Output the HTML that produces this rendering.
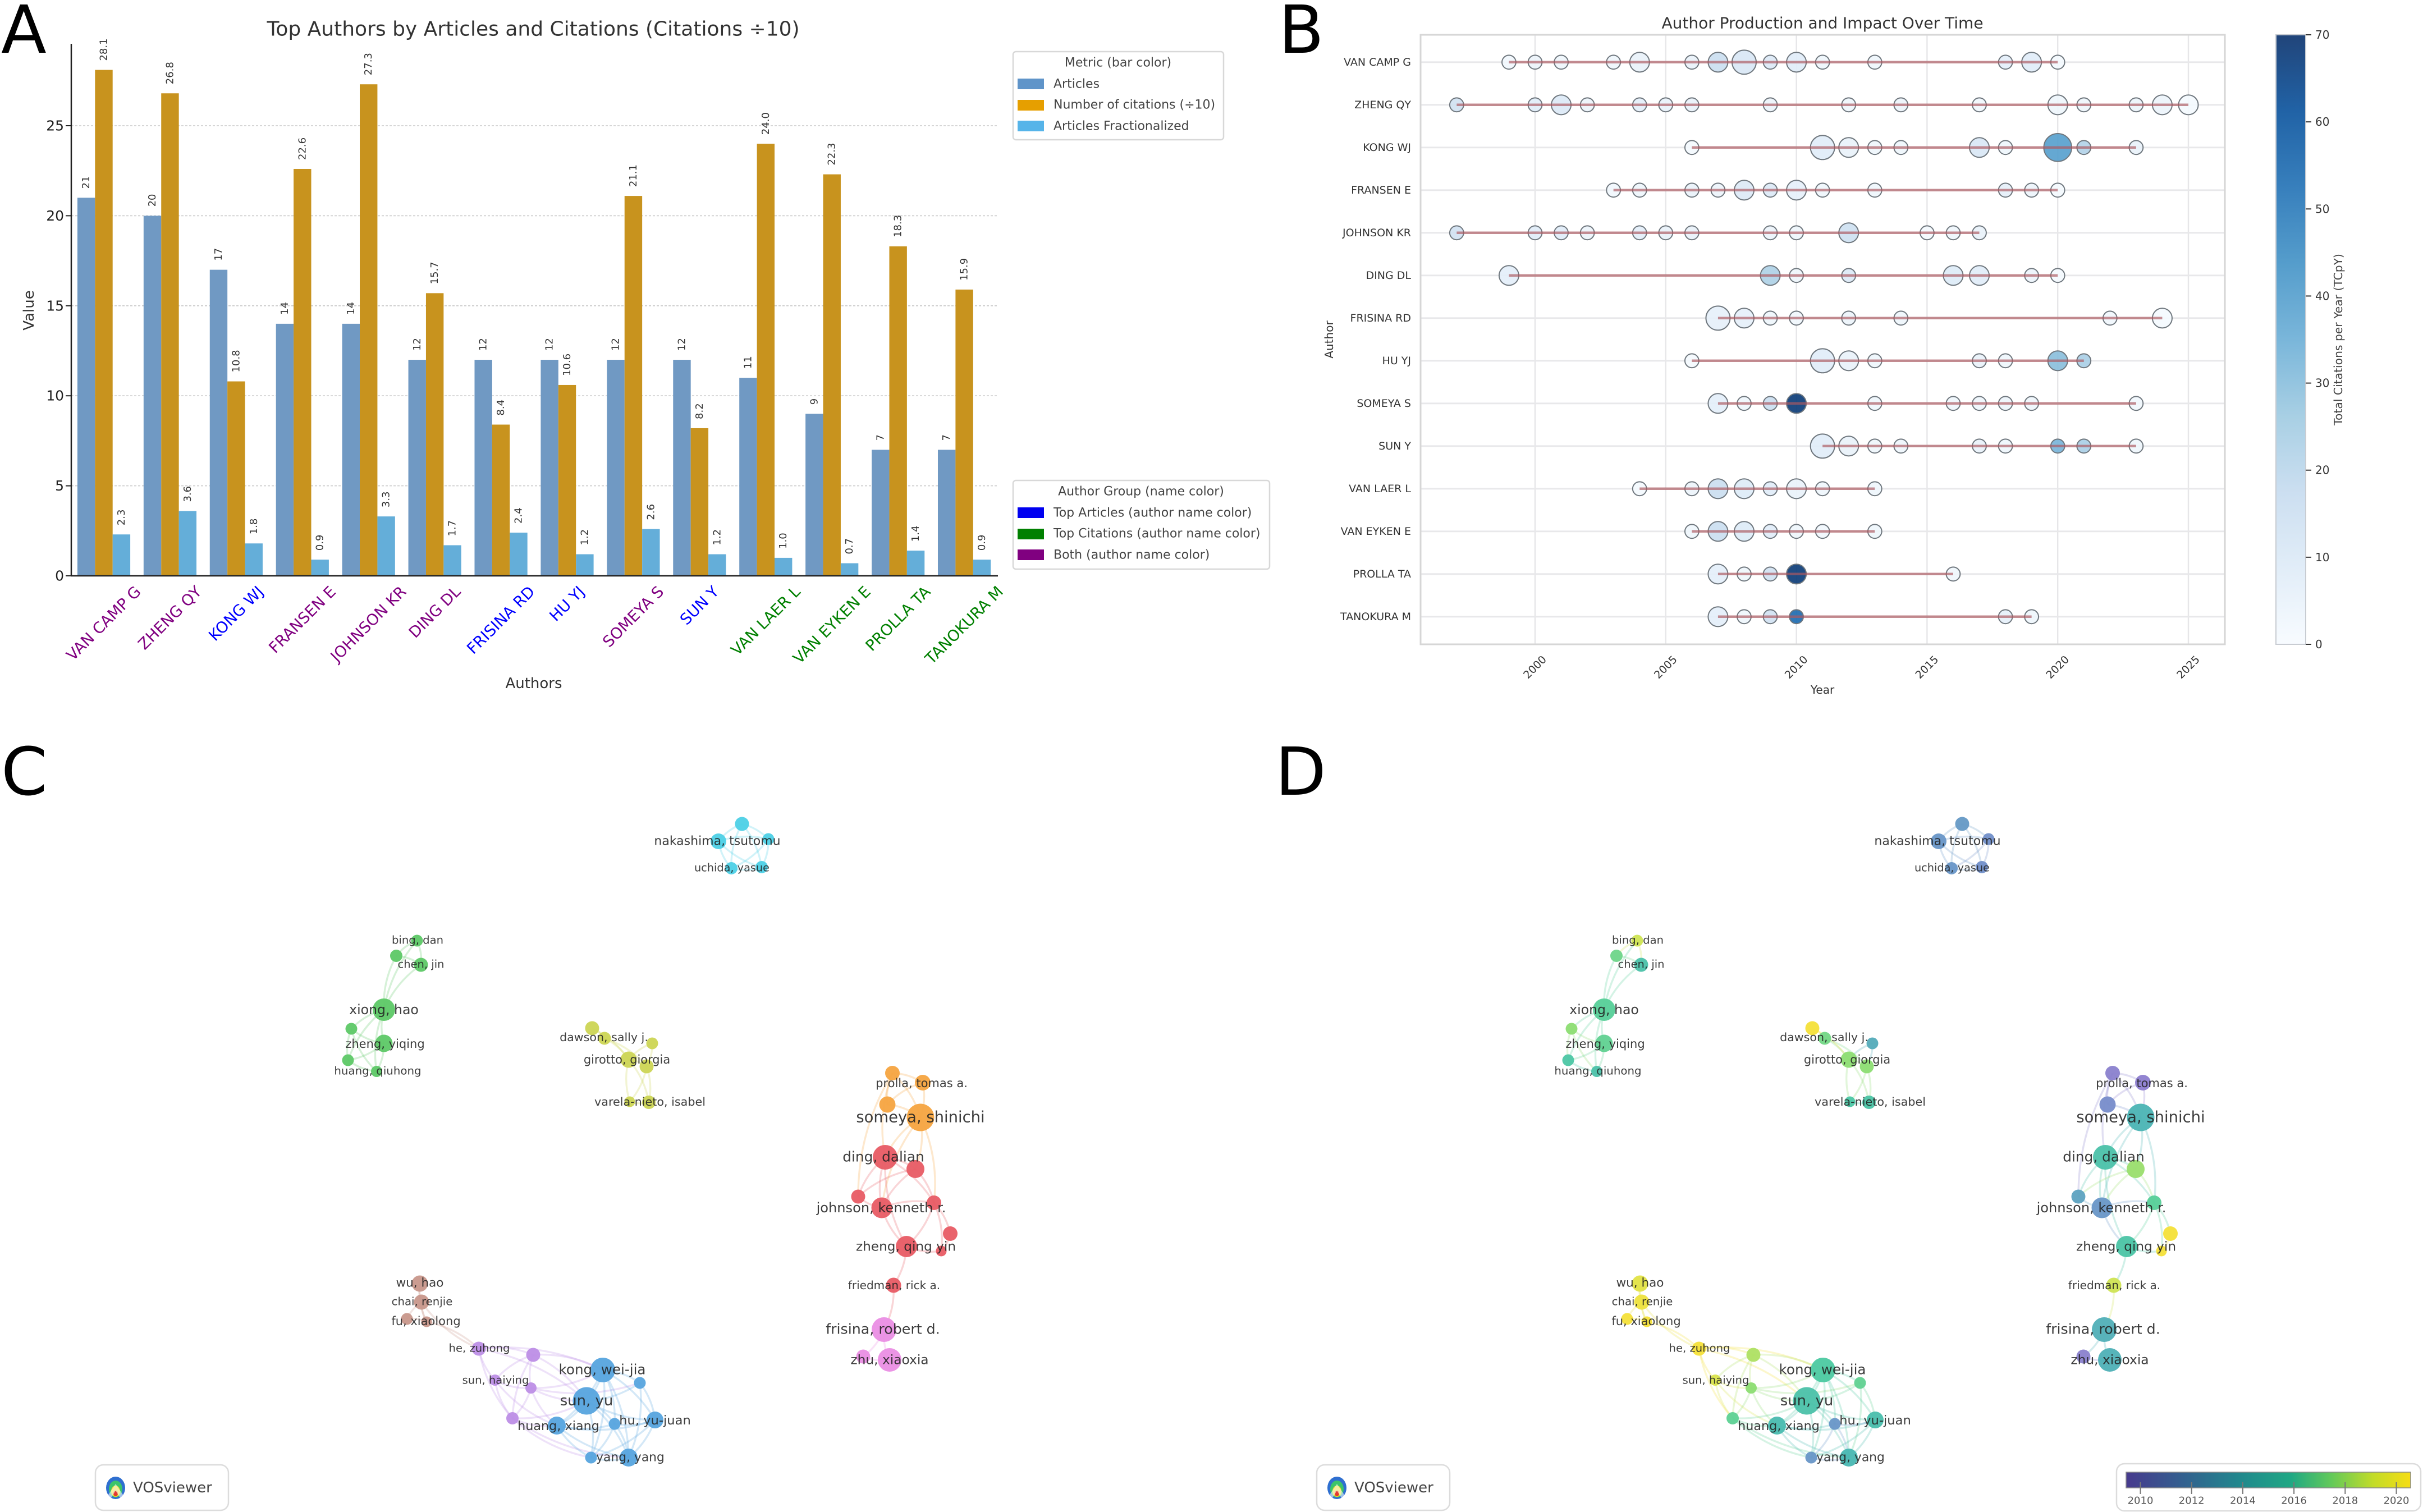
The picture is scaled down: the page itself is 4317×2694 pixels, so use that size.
<!DOCTYPE html>
<html lang="en">
<head>
<meta charset="utf-8">
<title>Author bibliometrics panels</title>
<style>
html,body{margin:0;padding:0;background:#fff}
svg{display:block}
text{font-family:"DejaVu Sans","Liberation Sans",sans-serif}
</style>
</head>
<body>
<svg id="figure" xmlns="http://www.w3.org/2000/svg" width="4317" height="2694" viewBox="0 0 4317 2694">
  <defs>
    <linearGradient id="bluesGrad" x1="0" y1="1" x2="0" y2="0">
      <stop offset="0" stop-color="#f7fbff"/><stop offset=".125" stop-color="#deebf7"/><stop offset=".25" stop-color="#c6dbef"/><stop offset=".375" stop-color="#9ecae1"/><stop offset=".5" stop-color="#6baed6"/><stop offset=".625" stop-color="#4292c6"/><stop offset=".75" stop-color="#2171b5"/><stop offset=".875" stop-color="#08519c"/><stop offset="1" stop-color="#08306b"/>
    </linearGradient>
    <linearGradient id="yearGrad" x1="0" y1="0" x2="1" y2="0">
      <stop offset="0" stop-color="#473a8e"/><stop offset=".2" stop-color="#33608f"/><stop offset=".4" stop-color="#21888d"/><stop offset=".58" stop-color="#1fa884"/><stop offset=".72" stop-color="#62c95a"/><stop offset=".87" stop-color="#c3dc28"/><stop offset="1" stop-color="#f6dd14"/>
    </linearGradient>
  </defs>

  <rect x="0" y="0" width="4317" height="2694" fill="#fff"/>

  <text x="2" y="94" font-size="118" fill="#000">A</text>
  <text x="2278" y="94" font-size="118" fill="#000">B</text>
  <text x="2" y="1416" font-size="118" fill="#000">C</text>
  <text x="2272" y="1416" font-size="118" fill="#000">D</text>

  <!-- Panel A -->
  <g id="panelA">
    <text x="950" y="52" font-size="36" fill="#333" text-anchor="middle" dominant-baseline="central">Top Authors by Articles and Citations (Citations ÷10)</text>
    <g id="aGrid"></g>
    <g id="aBars"></g>
    <line x1="127" y1="78" x2="127" y2="1027" stroke="#222" stroke-width="2.5"/>
    <line x1="126" y1="1026" x2="1778" y2="1026" stroke="#222" stroke-width="2.5"/>
    <g id="aTicks"></g>
    <g id="aCats"></g>
    <text transform="translate(52 553) rotate(-90)" font-size="26" fill="#333" text-anchor="middle" dominant-baseline="central">Value</text>
    <text x="951" y="1218" font-size="26" fill="#333" text-anchor="middle" dominant-baseline="central">Authors</text>

    <g>
      <rect x="1805" y="92" width="375" height="157" rx="5" fill="#fff" stroke="#d8d8d8" stroke-width="2.5"/>
      <text x="1992" y="112" font-size="22" fill="#444" text-anchor="middle" dominant-baseline="central">Metric (bar color)</text>
      <rect x="1813" y="140" width="47" height="19" fill="#5f94c9"/>
      <text x="1877" y="150" font-size="22" fill="#444" dominant-baseline="central">Articles</text>
      <rect x="1813" y="178" width="47" height="19" fill="#e69f00"/>
      <text x="1877" y="187" font-size="22" fill="#444" dominant-baseline="central">Number of citations (÷10)</text>
      <rect x="1813" y="215" width="47" height="19" fill="#56b4e9"/>
      <text x="1877" y="225" font-size="22" fill="#444" dominant-baseline="central">Articles Fractionalized</text>
    </g>
    <g>
      <rect x="1805" y="856" width="457" height="158" rx="5" fill="#fff" stroke="#d8d8d8" stroke-width="2.5"/>
      <text x="2033" y="876" font-size="22" fill="#444" text-anchor="middle" dominant-baseline="central">Author Group (name color)</text>
      <rect x="1813" y="904" width="47" height="19" fill="#0000f0"/>
      <text x="1877" y="914" font-size="22" fill="#444" dominant-baseline="central">Top Articles (author name color)</text>
      <rect x="1813" y="942" width="47" height="19" fill="#008000"/>
      <text x="1877" y="951" font-size="22" fill="#444" dominant-baseline="central">Top Citations (author name color)</text>
      <rect x="1813" y="979" width="47" height="19" fill="#800080"/>
      <text x="1877" y="989" font-size="22" fill="#444" dominant-baseline="central">Both (author name color)</text>
    </g>
  </g>

  <!-- Panel B -->
  <g id="panelB">
    <text x="3247" y="41" font-size="28" fill="#333" text-anchor="middle" dominant-baseline="central">Author Production and Impact Over Time</text>
    <g id="bGrid"></g>
    <rect x="2531" y="62" width="1433" height="1086" fill="none" stroke="#d6d6d6" stroke-width="3"/>
    <g id="bMarks"></g>
    <g id="bLines"></g>
    <g id="bTicks"></g>
    <text x="3247" y="1229" font-size="20" fill="#333" text-anchor="middle" dominant-baseline="central">Year</text>
    <text transform="translate(2368 605) rotate(-90)" font-size="20" fill="#333" text-anchor="middle" dominant-baseline="central">Author</text>
    <g>
      <rect x="4055" y="62" width="53" height="1086" fill="url(#bluesGrad)" opacity=".9"/>
      <rect x="4055" y="62" width="53" height="1086" fill="none" stroke="#c8ccd2" stroke-width="2"/>
      <g id="bCbar"></g>
      <text transform="translate(4166 605) rotate(-90)" font-size="20.3" fill="#444" text-anchor="middle" dominant-baseline="central">Total Citations per Year (TCpY)</text>
    </g>
  </g>

  <!-- Panel C / D -->
  <g id="panelC"></g>
  <g id="panelD"></g>

  <g>
    <rect x="170" y="2610" width="237" height="81" rx="14" fill="#fff" stroke="#dcdcdc" stroke-width="2.5"/>
    <g>
      <ellipse cx="206" cy="2651" rx="17" ry="20" fill="#2f6fd0"/><ellipse cx="206" cy="2653" rx="12" ry="15" fill="#3cc46a"/><ellipse cx="206" cy="2657" rx="8" ry="10" fill="#ecd92f"/><ellipse cx="206" cy="2661" rx="4" ry="5" fill="#e23a2e"/><path d="M187 2672l19-28 19 28h-9l-10-16-10 16z" fill="#fff" opacity=".55"/>
    </g>
    <text x="237" y="2651" font-size="26" fill="#444" dominant-baseline="central">VOSviewer</text>
  </g>
  <g>
    <rect x="2346" y="2610" width="237" height="81" rx="14" fill="#fff" stroke="#dcdcdc" stroke-width="2.5"/>
    <g>
      <ellipse cx="2382" cy="2651" rx="17" ry="20" fill="#2f6fd0"/><ellipse cx="2382" cy="2653" rx="12" ry="15" fill="#3cc46a"/><ellipse cx="2382" cy="2657" rx="8" ry="10" fill="#ecd92f"/><ellipse cx="2382" cy="2661" rx="4" ry="5" fill="#e23a2e"/><path d="M2363 2672l19-28 19 28h-9l-10-16-10 16z" fill="#fff" opacity=".55"/>
    </g>
    <text x="2413" y="2651" font-size="26" fill="#444" dominant-baseline="central">VOSviewer</text>
  </g>

  <g>
    <rect x="3771" y="2608" width="542" height="84" rx="14" fill="#fff" stroke="#dcdcdc" stroke-width="2.5"/>
    <rect x="3788" y="2623" width="507" height="28" fill="url(#yearGrad)" stroke="#8a8a8a" stroke-width="1.5"/>
    <g id="dCbar"></g>
  </g>
</svg>

<script>
/* ---------- Panel A data ---------- */
const authors = ["VAN CAMP G","ZHENG QY","KONG WJ","FRANSEN E","JOHNSON KR","DING DL","FRISINA RD","HU YJ","SOMEYA S","SUN Y","VAN LAER L","VAN EYKEN E","PROLLA TA","TANOKURA M"];
const articles = [21,20,17,14,14,12,12,12,12,12,11,9,7,7];
const citations = [28.1,26.8,10.8,22.6,27.3,15.7,8.4,10.6,21.1,8.2,24.0,22.3,18.3,15.9];
const fractionalized = [2.3,3.6,1.8,0.9,3.3,1.7,2.4,1.2,2.6,1.2,1.0,0.7,1.4,0.9];
const authorGroups = ["both","both","articles","both","both","both","articles","articles","both","articles","citations","citations","citations","citations"];
const valueTicks = [0,5,10,15,20,25];

/* ---------- Panel B data ---------- */
const timelineAuthors = ["VAN CAMP G","ZHENG QY","KONG WJ","FRANSEN E","JOHNSON KR","DING DL","FRISINA RD","HU YJ","SOMEYA S","SUN Y","VAN LAER L","VAN EYKEN E","PROLLA TA","TANOKURA M"];
const pubYears = [
 [1999,2000,2001,2003,2004,2006,2007,2008,2009,2010,2011,2013,2018,2019,2020],
 [1997,2000,2001,2002,2004,2005,2006,2009,2012,2014,2017,2020,2021,2023,2024,2025],
 [2006,2011,2012,2013,2014,2017,2018,2020,2021,2023],
 [2003,2004,2006,2007,2008,2009,2010,2011,2013,2018,2019,2020],
 [1997,2000,2001,2002,2004,2005,2006,2009,2010,2012,2015,2016,2017],
 [1999,2009,2010,2012,2016,2017,2019,2020],
 [2007,2008,2009,2010,2012,2014,2022,2024],
 [2006,2011,2012,2013,2017,2018,2020,2021],
 [2007,2008,2009,2010,2013,2016,2017,2018,2019,2023],
 [2011,2012,2013,2014,2017,2018,2020,2021,2023],
 [2004,2006,2007,2008,2009,2010,2011,2013],
 [2006,2007,2008,2009,2010,2011,2013],
 [2007,2008,2009,2010,2016],
 [2007,2008,2009,2010,2018,2019]
];
const pubCounts = [
 [1,1,1,1,2,1,2,3,1,2,1,1,1,2,1],
 [1,1,2,1,1,1,1,1,1,1,1,2,1,1,2,2],
 [1,3,2,1,1,2,1,4,1,1],
 [1,1,1,1,2,1,2,1,1,1,1,1],
 [1,1,1,1,1,1,1,1,1,2,1,1,1],
 [2,2,1,1,2,2,1,1],
 [3,2,1,1,1,1,1,2],
 [1,3,2,1,1,1,2,1],
 [2,1,1,2,1,1,1,1,1,1],
 [3,2,1,1,1,1,1,1,1],
 [1,1,2,2,1,2,1,1],
 [1,2,2,1,1,1,1],
 [2,1,1,2,1],
 [2,1,1,1,1,1]
];
const pubTcpy = [
 [2,4,3,3,5,5,16,11,10,8,3,3,7,8,1],
 [14,8,10,4,7,5,5,4,3,4,2,3,3,4,4,1],
 [1,8,5,3,3,11,3,40,22,5],
 [2,3,5,4,10,10,6,3,3,6,4,1],
 [14,8,8,4,7,5,5,4,3,15,1,3,5],
 [7,23,3,10,9,8,4,1],
 [6,6,3,2,4,3,2,1],
 [1,8,5,3,5,3,30,24],
 [7,3,16,68,3,3,3,4,3,2],
 [8,5,3,3,5,3,33,24,3],
 [1,4,16,9,8,5,3,3],
 [3,16,9,8,3,2,3],
 [7,3,14,68,3],
 [7,3,14,55,6,3]
];
const yearTicks = [2000,2005,2010,2015,2020,2025];
const tcpyTicks = [0,10,20,30,40,50,60,70];

/* ---------- Panels C/D data: layout coordinates come from the network map ---------- */
const nodeIds = ["n1","n2","n3","n4","n5","xiong","bing","g3","chen","g5","yiqing","g7","qiuhong","y1","dawson","y3","girotto","y5","y6","varela","o1","prolla","o3","someya","ding","r2","r3","johnson","r5","r6","qingyin","r8","friedman","frisina","p2","zhu","wu","chai","b3","b4","he","u2","haiying","u4","u5","kong","s1","sunyu","xiang","m1","yujuan","m2","yang"];
const nodeLayoutX = [1322,1280,1369,1303,1357,684,743,706,750,626,684,620,671,1055,1077,1162,1120,1152,1122,1156,1590,1644,1581,1640,1577,1631,1529,1571,1664,1693,1615,1677,1592,1575,1538,1585,748,751,725,760,853,950,882,946,913,1074,1140,1045,992,1095,1167,1053,1120];
const nodeLayoutY = [1468,1499,1495,1547,1545,1799,1676,1703,1719,1833,1859,1889,1909,1832,1850,1859,1888,1900,1963,1964,1912,1929,1968,1991,2062,2083,2132,2152,2143,2198,2221,2229,2290,2369,2417,2423,2287,2320,2350,2355,2403,2414,2459,2473,2527,2441,2464,2496,2540,2537,2530,2597,2597];
const nodeWeights = [12.5,14,10.5,11,11,20,10.5,11,12.5,10.5,15.5,10.5,10,12.5,11.5,10.5,14.5,12.5,9.5,12,13,14,14.5,24.5,22,16,12.5,18.5,13,13,19,9.5,13.5,22,12.5,21,14.5,13.5,10.5,9.5,12.5,12.5,10,10,11,22,10.5,24.5,16,10.5,15,10.5,16];
const nodeClusters = ["cyan","cyan","cyan","cyan","cyan","green","green","green","green","green","green","green","green","olive","olive","olive","olive","olive","olive","olive","orange","orange","orange","orange","red","red","red","red","red","red","red","red","red","pink","pink","pink","brown","brown","brown","brown","purple","purple","purple","purple","purple","blue","blue","blue","blue","blue","blue","blue","blue"];
const nodeMeanYears = [2012.2,2012,2011.5,2012,2011.5,2016.3,2019,2017,2015,2018,2016.6,2015.5,2015,2020,2017.2,2013.3,2018,2018,2015.5,2015.3,2010.2,2010,2011.2,2013.8,2015,2018.2,2012.7,2012,2016.3,2020,2015.3,2020,2019,2013.5,2010.2,2013.6,2019.5,2019.8,2020,2020,2020,2018.5,2019.3,2018,2016.5,2015.8,2016.6,2015,2014.3,2012,2014.6,2012,2014];
const coauthorLinks = [
 ["n1 n2 n1 n3 n1 n4 n1 n5 n2 n3 n2 n4 n2 n5 n3 n4 n3 n5 n4 n5"],
 ["xiong g3 xiong bing xiong chen bing g3 bing chen g3 chen xiong g5 xiong yiqing xiong g7 xiong qiuhong g5 yiqing g5 g7 g5 qiuhong yiqing g7 yiqing qiuhong g7 qiuhong"],
 ["y1 dawson dawson girotto dawson y5 y3 girotto y3 y5 girotto y5 girotto y6 girotto varela y5 y6 y5 varela y6 varela y1 girotto"],
 ["o1 prolla o1 o3 prolla o3 prolla someya o3 someya o1 someya o1 ding o1 r3 someya ding someya r2 someya r5 someya johnson ding r2 ding r3 ding johnson ding r5 ding qingyin r2 r3 r2 johnson r2 r5 r3 johnson johnson r5 johnson qingyin r5 r6 r5 qingyin r5 r8 r6 r8 qingyin r8 qingyin friedman friedman frisina frisina p2 frisina zhu p2 zhu"],
 ["wu chai chai b3 chai b4 b3 b4 wu b4 chai he b4 he he u2 he haiying he u5 he kong he sunyu u2 haiying u2 u4 u2 u5 u2 kong u2 sunyu haiying u4 haiying u5 haiying xiang u4 u5 u4 kong u4 sunyu u4 xiang u4 s1 u5 xiang u5 sunyu u5 m2 u5 yang kong s1 kong sunyu kong xiang kong m1 kong yujuan kong m2 kong yang s1 sunyu s1 yujuan s1 yang sunyu xiang sunyu m1 sunyu yujuan sunyu m2 sunyu yang xiang m1 xiang yujuan xiang m2 xiang yang m1 yujuan m1 m2 m1 yang yujuan m2 yujuan yang m2 yang"]
];
const nodeLabels = [
 ["nakashima, tsutomu",1278,1499,22],["uchida, yasue",1304,1546,19.3],
 ["bing, dan",744,1675,19.6],["chen, jin",750,1718,19.5],["xiong, hao",684,1799,23.6],["zheng, yiqing",686,1860,21],["huang, qiuhong",673,1908,19.8],
 ["dawson, sally j.",1076,1848,20.6],["girotto, giorgia",1117,1888,20.9],["varela-nieto, isabel",1158,1963,20.7],
 ["prolla, tomas a.",1642,1930,21],["someya, shinichi",1640,1991,27.4],["ding, dalian",1574,2061,24.8],["johnson, kenneth r.",1570,2152,24.1],["zheng, qing yin",1614,2221,23.2],["friedman, rick a.",1593,2290,20],["frisina, robert d.",1573,2368,25.3],["zhu, xiaoxia",1585,2423,23.3],
 ["wu, hao",748,2286,21.5],["chai, renjie",752,2319,19.7],["fu, xiaolong",759,2354,21],["he, zuhong",854,2402,19.6],["sun, haiying",883,2459,19.5],
 ["kong, wei-jia",1073,2440,24.6],["sun, yu",1045,2496,25.9],["huang, xiang",995,2541,22.3],["hu, yu-juan",1167,2531,22.6],["yang, yang",1123,2597,21.8]
];
const colorbarYears = [2010,2012,2014,2016,2018,2020];

/* ---------- helpers ---------- */
const SVGNS = "http://www.w3.org/2000/svg";
function make(parent, tag, attrs, text){
  const e = document.createElementNS(SVGNS, tag);
  for(const k in attrs) e.setAttribute(k, attrs[k]);
  if(text !== undefined) e.textContent = text;
  parent.appendChild(e);
  return e;
}
function hexMix(a,b,t){
  const pa=[1,3,5].map(i=>parseInt(a.substr(i,2),16)), pb=[1,3,5].map(i=>parseInt(b.substr(i,2),16));
  return "rgb("+pa.map((v,i)=>Math.round(v+(pb[i]-v)*t)).join(",")+")";
}
function ramp(stops, t){
  t=Math.max(0,Math.min(1,t));
  const n=stops.length-1, i=Math.min(n-1,Math.floor(t*n));
  return hexMix(stops[i],stops[i+1],t*n-i);
}

/* ---------- Panel A ---------- */
const yA = v => 1026 - v*32.08;
const xA = i => 185 + i*117.93;
const BAR_W = 31.4;
const seriesColors = ["#7099c3","#c8931e","#64aed9"];
const seriesNames = ["articles","citations","fractionalized"];
const groupColors = {both:"#800080",articles:"#0000ff",citations:"#008000"};
const aGrid=document.getElementById("aGrid"), aBars=document.getElementById("aBars"), aTicks=document.getElementById("aTicks"), aCats=document.getElementById("aCats");
valueTicks.forEach(v=>{
  if(v>0){
    const g=make(aGrid,"line",{x1:127,x2:1778,y1:yA(v),y2:yA(v),stroke:"#c9c9c9","stroke-width":1.6,"stroke-dasharray":"4 3"});
    
    
  }
  const tk=make(aTicks,"line",{x1:117,x2:127,y1:yA(v),y2:yA(v),stroke:"#222","stroke-width":2});
  
  
  const t=make(aTicks,"text",{x:114,y:yA(v),"font-size":25,fill:"#222","text-anchor":"end","dominant-baseline":"central"},String(v));
  
  
});
[articles,citations,fractionalized].forEach((series,k)=>{
  series.forEach((v,i)=>{
    const x=xA(i)+(k-1.5)*BAR_W;
    const r=make(aBars,"rect",{x:x,y:yA(v),width:BAR_W,height:1026-yA(v),fill:seriesColors[k]});
    
    
    const cx=x+BAR_W/2, cy=yA(v)-16;
    const lab=make(aBars,"text",{transform:"translate("+cx+" "+cy+") rotate(-90)","font-size":18,fill:"#333","dominant-baseline":"central"},k===0?String(v):v.toFixed(1));
    
    
  });
});
authors.forEach((name,i)=>{
  const t=make(aCats,"text",{"font-size":27.5,fill:groupColors[authorGroups[i]],"text-anchor":"middle","dominant-baseline":"central"},name);
  
  
  const L=t.getComputedTextLength();
  const cy=1040+(L+27)*Math.SQRT1_2/2;
  t.setAttribute("transform","translate("+xA(i)+" "+cy+") rotate(-45)");
});

/* ---------- Panel B ---------- */
const xB = y => 2735 + (y-2000)*46.56;
const yB = i => 110.8 + i*76;
const yCb = v => 1148 - v*(1086/70);
const rB = n => 12.4*Math.sqrt(n);
const BLUES=["#f7fbff","#deebf7","#c6dbef","#9ecae1","#6baed6","#4292c6","#2171b5","#08519c","#08306b"];
const bGrid=document.getElementById("bGrid"), bMarks=document.getElementById("bMarks"), bLines=document.getElementById("bLines"), bTicks=document.getElementById("bTicks"), bCbar=document.getElementById("bCbar");
yearTicks.forEach(y=>{
  const g=make(bGrid,"line",{x1:xB(y),x2:xB(y),y1:62,y2:1148,stroke:"#e6e6e8","stroke-width":2.4});
  
  
  const t=make(bTicks,"text",{transform:"translate("+xB(y)+" 1189) rotate(-45)","font-size":19,fill:"#333","text-anchor":"middle","dominant-baseline":"central"},String(y));
  
  
});
timelineAuthors.forEach((name,i)=>{
  const g=make(bGrid,"line",{x1:2531,x2:3964,y1:yB(i),y2:yB(i),stroke:"#e8e8ea","stroke-width":2.8});
  
  
  const t=make(bTicks,"text",{x:2514,y:yB(i),"font-size":19,fill:"#333","text-anchor":"end","dominant-baseline":"central"},name);
  
  
  const yrs=pubYears[i];
  yrs.forEach((yr,j)=>{
    const c=make(bMarks,"circle",{cx:xB(yr),cy:yB(i),r:rB(pubCounts[i][j]),fill:ramp(BLUES,pubTcpy[i][j]/70),"fill-opacity":.9,stroke:"#6f777e","stroke-width":2});
    
    
  });
  const l=make(bLines,"line",{x1:xB(yrs[0]),x2:xB(yrs[yrs.length-1]),y1:yB(i),y2:yB(i),stroke:"#ac5a61","stroke-opacity":.68,"stroke-width":4.5});
  
  
});
tcpyTicks.forEach(v=>{
  const m=make(bCbar,"line",{x1:4108,x2:4118,y1:yCb(v),y2:yCb(v),stroke:"#333","stroke-width":2});
  
  
  const t=make(bCbar,"text",{x:4125,y:yCb(v),"font-size":20,fill:"#333","dominant-baseline":"central"},String(v));
  
  
});

/* ---------- Panels C & D ---------- */
const clusterColors={cyan:"#4fd0e6",green:"#5fc968",olive:"#cdd556",orange:"#f6a543",red:"#e85d66",pink:"#ea90e4",brown:"#c9988c",purple:"#bd90e6",blue:"#58a6df"};
const YEAR_STOPS=[[2010,"#8f80cf"],[2012,"#6a97c8"],[2014,"#4ab8b3"],[2016,"#4fcca0"],[2018,"#8ede74"],[2019,"#cfe455"],[2020,"#f5e13b"]];
function yearColor(y){
  for(let i=0;i<YEAR_STOPS.length-1;i++){
    if(y<=YEAR_STOPS[i+1][0]) return hexMix(YEAR_STOPS[i][1],YEAR_STOPS[i+1][1],Math.max(0,(y-YEAR_STOPS[i][0])/(YEAR_STOPS[i+1][0]-YEAR_STOPS[i][0])));
  }
  return YEAR_STOPS[YEAR_STOPS.length-1][1];
}
function drawNetwork(rootId, dx, colorOf, edgeOpacity){
  const root=document.getElementById(rootId);
  const edges=make(root,"g",{});
  
  
  const nodes=make(root,"g",{});
  
  
  const labels=make(root,"g",{});
  
  
  const idx={};
  nodeIds.forEach((id,i)=>idx[id]=i);
  coauthorLinks.forEach(set=>{
    const toks=set[0].split(" ");
    const used=new Set(toks.map(t=>idx[t]));
    let mx=0,my=0;
    used.forEach(i=>{mx+=nodeLayoutX[i];my+=nodeLayoutY[i];});
    mx/=used.size;my/=used.size;
    for(let k=0;k<toks.length;k+=2){
      const a=idx[toks[k]],b=idx[toks[k+1]];
      const x1=nodeLayoutX[a],y1=nodeLayoutY[a],x2=nodeLayoutX[b],y2=nodeLayoutY[b];
      const ex=x2-x1,ey=y2-y1,len=Math.hypot(ex,ey)||1;
      let px=-ey/len,py=ex/len;
      const hx=(x1+x2)/2,hy=(y1+y2)/2;
      if((hx-mx)*px+(hy-my)*py<0){px=-px;py=-py;}
      const off=len*0.14;
      const p=make(edges,"path",{d:"M"+(x1+dx)+" "+y1+"Q"+(hx+px*off+dx)+" "+(hy+py*off)+" "+(x2+dx)+" "+y2,fill:"none",stroke:colorOf(a),"stroke-opacity":edgeOpacity,"stroke-width":3.4});
      
      
    }
  });
  nodeIds.forEach((id,i)=>{
    const c=make(nodes,"circle",{cx:nodeLayoutX[i]+dx,cy:nodeLayoutY[i],r:nodeWeights[i],fill:colorOf(i),"fill-opacity":.96});
    
    
  });
  nodeLabels.forEach(l=>{
    const t=make(labels,"text",{x:l[1]+dx,y:l[2],"font-size":l[3],fill:"#222","fill-opacity":.88,"text-anchor":"middle","dominant-baseline":"central"},l[0]);
    
    
  });
}
drawNetwork("panelC",0,i=>clusterColors[nodeClusters[i]],.26);
drawNetwork("panelD",2174,i=>yearColor(nodeMeanYears[i]),.26);

const xCb = y => 3813.5 + (y-2010)*45.6;
const dCbar=document.getElementById("dCbar");
colorbarYears.forEach(y=>{
  const m=make(dCbar,"line",{x1:xCb(y),x2:xCb(y),y1:2641,y2:2662,stroke:"#777","stroke-width":2});
  
  
  const t=make(dCbar,"text",{x:xCb(y),y:2674,"font-size":18,fill:"#555","text-anchor":"middle","dominant-baseline":"central"},String(y));
  
  
});
</script>
</body>
</html>
